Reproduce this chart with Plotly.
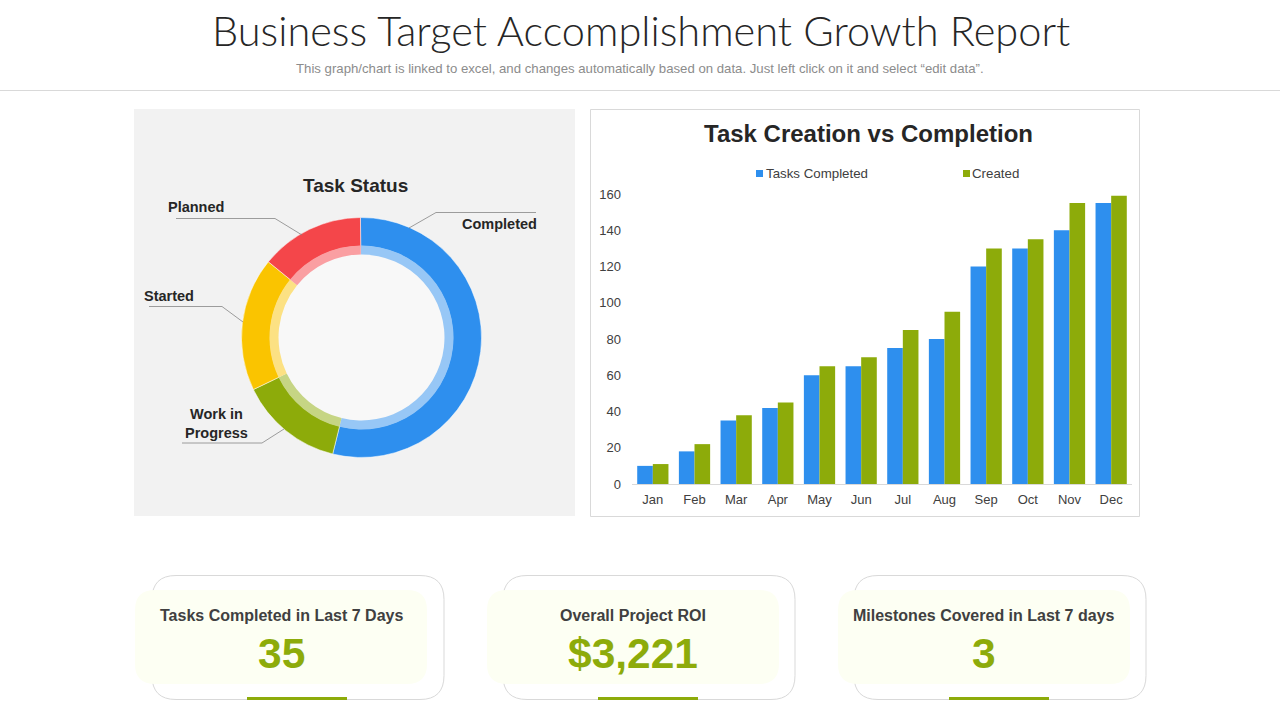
import plotly.graph_objects as go


class TargetReportGenerator:
    def __init__(self, output_html):
        self.output_html = output_html
        self.width = 1280
        self.height = 720
        self.fig = None
        self.shapes = []
        self.annotations = []

        self.months = ["Jan", "Feb", "Mar", "Apr", "May", "Jun", "Jul", "Aug", "Sep", "Oct", "Nov", "Dec"]
        self.tasks_completed = [10, 18, 35, 42, 60, 65, 75, 80, 120, 130, 140, 155]
        self.tasks_created = [11, 22, 38, 45, 65, 70, 85, 95, 130, 135, 155, 159]

        self.status_labels = ["Completed", "Work in Progress", "Started", "Planned"]
        self.status_values = [54, 14, 18, 14]
        self.status_colors = ["#2E8FEE", "#8DAB0A", "#FAC400", "#F4464A"]
        self.status_pale = ["#97C7F6", "#C6D584", "#FCE183", "#FA9FA2"]

        self.cards = [
            (152, 135, "Tasks Completed in Last 7 Days", "35"),
            (503, 487, "Overall Project ROI", "$3,221"),
            (854, 838, "Milestones Covered in Last 7 days", "3"),
        ]

    def px_x(self, x):
        """Convert a pixel column to paper coordinates"""
        return x / self.width

    def px_y(self, y):
        """Convert a pixel row to paper coordinates"""
        return 1 - y / self.height

    def add_text(self, x, y, text, size, color, bold=False, family="Liberation Sans", weight=None):
        """Add a text centered on a pixel position"""
        self.annotations.append(dict(
            x=self.px_x(x), y=self.px_y(y),
            xref="paper", yref="paper",
            text=f"<b>{text}</b>" if bold else text,
            showarrow=False,
            xanchor="center", yanchor="middle",
            align="center",
            font=dict(family=family, size=size, color=color, weight=weight)
        ))

    def add_box(self, x0, y0, x1, y1, fill, line=None, radius=0):
        """Add a box, with rounded corners if a radius is given"""
        X = self.px_x
        Y = self.px_y
        if radius:
            r = radius
            path = (f"M {X(x0 + r)} {Y(y0)} L {X(x1 - r)} {Y(y0)} Q {X(x1)} {Y(y0)} {X(x1)} {Y(y0 + r)} "
                    f"L {X(x1)} {Y(y1 - r)} Q {X(x1)} {Y(y1)} {X(x1 - r)} {Y(y1)} "
                    f"L {X(x0 + r)} {Y(y1)} Q {X(x0)} {Y(y1)} {X(x0)} {Y(y1 - r)} "
                    f"L {X(x0)} {Y(y0 + r)} Q {X(x0)} {Y(y0)} {X(x0 + r)} {Y(y0)} Z")
            self.shapes.append(dict(type="path", path=path, xref="paper", yref="paper",
                                    fillcolor=fill, layer="below",
                                    line=dict(width=1 if line else 0, color=line or fill)))
        else:
            self.shapes.append(dict(type="rect", x0=X(x0), y0=Y(y0), x1=X(x1), y1=Y(y1),
                                    xref="paper", yref="paper",
                                    fillcolor=fill, layer="below",
                                    line=dict(width=1 if line else 0, color=line or fill)))

    def add_leader(self, points):
        """Add a thin leader line through pixel points"""
        path = "M " + " L ".join(f"{self.px_x(x)} {self.px_y(y)}" for x, y in points)
        self.shapes.append(dict(type="path", path=path, xref="paper", yref="paper",
                                line=dict(width=0.75, color="#7F7F7F")))

    def prepare_page(self):
        """Prepare header, panels and cards"""
        # Header
        self.add_text(641, 30, "Business Target Accomplishment Growth Report", 41.5, "#262626", family="Lato", weight=300)
        self.add_text(640, 68,
                      "This graph/chart is linked to excel, and changes automatically based on data. "
                      "Just left click on it and select “edit data”.", 13.2, "#8C8C8C")
        self.shapes.append(dict(type="line", x0=0, x1=1, y0=self.px_y(90.5), y1=self.px_y(90.5),
                                xref="paper", yref="paper", layer="below",
                                line=dict(width=1, color="#D9D9D9")))

        # Panels
        self.add_box(134, 109, 575, 516, "#F2F2F2")
        self.add_box(590.5, 109.5, 1139.5, 516.5, "#FFFFFF", line="#D9D9D9")
        self.shapes.append(dict(type="circle", xref="paper", yref="paper", layer="below",
                                x0=self.px_x(278), x1=self.px_x(445),
                                y0=self.px_y(254), y1=self.px_y(421),
                                fillcolor="#F8F8F8", line=dict(width=0)))

        # Cards
        for outer_x, inner_x, label, value in self.cards:
            self.add_box(outer_x, 575.5, outer_x + 292, 699.5, "#FFFFFF", line="#D9D9D9", radius=24)
            self.add_box(inner_x, 590, inner_x + 292, 684, "#FDFFF3", radius=20)
            self.add_box(outer_x + 95, 697, outer_x + 195, 700, "#8DAB0A")
            self.add_text(inner_x + 146, 615, label, 16, "#404040", bold=True)
            self.add_text(inner_x + 146, 653, value, 42.5, "#8DAB0A", bold=True)

    def prepare_labels(self):
        """Prepare the donut labels and the bar chart title and legend"""
        self.add_text(355, 186, "Task Status", 19, "#262626", bold=True)
        self.add_text(196, 207, "Planned", 14.5, "#262626", bold=True)
        self.add_text(169, 296, "Started", 14.5, "#262626", bold=True)
        self.add_text(499, 224, "Completed", 14.5, "#262626", bold=True)
        self.add_text(216, 423.5, "Work in<br>Progress", 14.5, "#262626", bold=True)

        self.add_leader([(176, 218.5), (275, 218.5), (302, 235)])
        self.add_leader([(149, 306.5), (222, 306.5), (243, 322)])
        self.add_leader([(536, 212.5), (436, 212.5), (409, 228)])
        self.add_leader([(182, 443), (262, 443), (284, 429)])

        self.add_text(868, 133, "Task Creation vs Completion", 24, "#262626", bold=True)

        # Legend
        for x, color, label, text_x in [(755, "#2E8FEE", "Tasks Completed", 816.5),
                                        (962, "#8DAB0A", "Created", 995.5)]:
            self.add_box(x + 1, 170, x + 8, 177, color)
            self.add_text(text_x, 173.5, label, 13.3, "#404040")

    def generate_visualization(self):
        """Generate and save the visualization"""
        self.fig = go.Figure()

        # Add bars
        self.fig.add_trace(go.Bar(x=self.months, y=self.tasks_completed, name="Tasks Completed",
                                  marker=dict(color="#2E8FEE", line=dict(width=0))))
        self.fig.add_trace(go.Bar(x=self.months, y=self.tasks_created, name="Created",
                                  marker=dict(color="#8DAB0A", line=dict(width=0))))

        # Add donut
        self.fig.add_trace(go.Pie(
            labels=self.status_labels, values=self.status_values,
            domain=dict(x=[self.px_x(241.5), self.px_x(481.5)], y=[self.px_y(457.5), self.px_y(217.5)]),
            hole=0.76, sort=False, direction="clockwise", rotation=-0.5,
            textinfo="none", showlegend=False,
            marker=dict(colors=self.status_colors, line=dict(width=0.5, color="#FFFFFF"))
        ))

        # Add pale inner ring
        self.fig.add_trace(go.Pie(
            labels=self.status_labels, values=self.status_values,
            domain=dict(x=[self.px_x(269.5), self.px_x(453.5)], y=[self.px_y(429.5), self.px_y(245.5)]),
            hole=0.902, sort=False, direction="clockwise", rotation=-0.5,
            textinfo="none", showlegend=False,
            marker=dict(colors=self.status_pale, line=dict(width=0))
        ))

        # Update layout
        self.fig.update_layout(
            width=self.width, height=self.height,
            showlegend=False,
            margin=dict(b=0, l=0, r=0, t=0, autoexpand=False),
            paper_bgcolor="#FFFFFF", plot_bgcolor="rgba(0,0,0,0)",
            barmode="group", bargap=0.25, bargroupgap=0,
            font=dict(family="Liberation Sans", size=13, color="#404040"),
            xaxis=dict(domain=[self.px_x(632), self.px_x(1132)], showgrid=False, zeroline=False,
                       showline=True, linecolor="#D9D9D9", ticks="", ticklabelstandoff=3),
            yaxis=dict(domain=[self.px_y(484), self.px_y(194)], range=[0, 160], dtick=20,
                       showgrid=False, zeroline=False, showline=False, ticks="", ticklabelstandoff=10),
            shapes=self.shapes,
            annotations=self.annotations
        )

        # Save to HTML
        self.fig.write_html(self.output_html, config=dict(displayModeBar=False),
                            post_script="document.body.style.margin='0';")

    def generate(self):
        """Execute the complete chart generation process"""
        self.prepare_page()
        self.prepare_labels()
        self.generate_visualization()

        return 'ok'


if __name__ == "__main__":
    report = TargetReportGenerator("out.html")
    report.generate()
